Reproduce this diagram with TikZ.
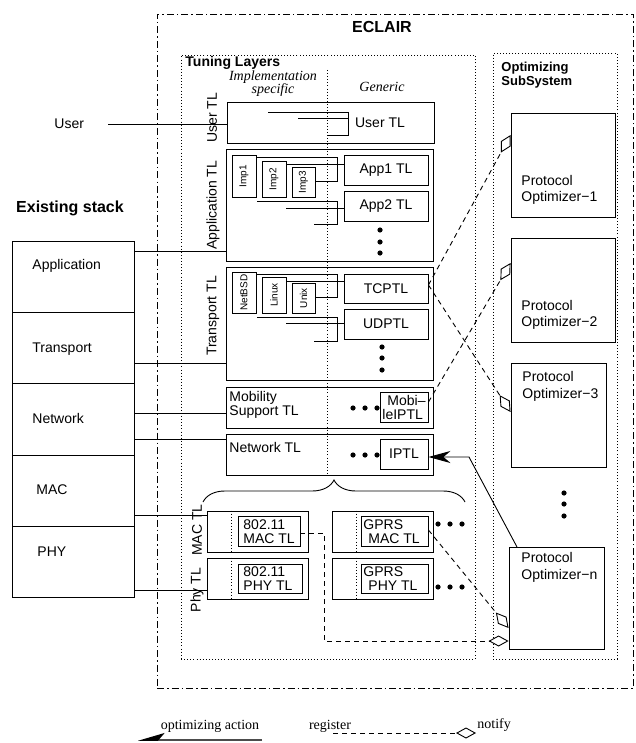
\documentclass[tikz,border=0pt]{standalone}
\usepackage{fontspec}
\usepackage{graphicx}
\setmainfont{Liberation Serif}
\setsansfont{Liberation Sans}
\usetikzlibrary{arrows.meta,decorations.pathreplacing}
\begin{document}
\begin{tikzpicture}[x=1pt,y=-1pt,line width=0.9pt,font=\sffamily,
  box/.style={draw,inner sep=0pt},
  t14/.style={font=\sffamily\fontsize{14}{14}\selectfont,inner sep=0pt},
  t10/.style={font=\sffamily\fontsize{10}{10}\selectfont,inner sep=0pt},
  pot/.style={font=\sffamily\fontsize{14}{16.5}\selectfont,inner sep=0pt,anchor=west,align=left},
  hd/.style={font=\sffamily\bfseries\fontsize{14}{14}\selectfont,inner sep=0pt},
  ser/.style={font=\rmfamily\fontsize{14}{13}\selectfont,inner sep=0pt},
  seri/.style={font=\rmfamily\itshape\fontsize{14}{13}\selectfont,inner sep=0pt,align=center},
  dotline/.style={dash pattern=on 0.9pt off 2.2pt,line width=0.8pt},
  dashdot/.style={dash pattern=on 7pt off 3pt on 1.5pt off 3pt},
  reg/.style={dash pattern=on 5pt off 4pt,-{Diamond[fill=white,length=20pt,width=11pt,line width=0.9pt]}},
  act/.style={-{Stealth[length=22pt,width=12pt,inset=7pt]}},
]
\useasboundingbox (0,0) rectangle (635,743);

% ---------- frames ----------
\node[box,dashdot,minimum width=476pt,minimum height=674pt] (eclair) at (395,351) {};
\node[box,dotline,minimum width=294pt,minimum height=604pt] (tuning) at (328,357) {};
\node[box,dotline,minimum width=124pt,minimum height=606pt] (optsub) at (555,356) {};

\node[font=\sffamily\bfseries\fontsize{16}{16}\selectfont,inner sep=0pt] (ttlEclair) at (382,27) {ECLAIR};
\node[hd,anchor=west] (ttlTuning) at (185,63) {Tuning Layers};
\node[font=\sffamily\bfseries\fontsize{13}{14}\selectfont,inner sep=0pt,anchor=west,align=left] (ttlOpt) at (501,75) {Optimizing\\SubSystem};
\node[seri] (ttlImpl) at (273,84) {Implementation\\specific};
\node[seri] (ttlGen) at (382,87) {Generic};

% ---------- existing stack ----------
\node[font=\sffamily\bfseries\fontsize{16}{16}\selectfont,inner sep=0pt] (ttlStack) at (70,208) {Existing stack};
\node[box,minimum width=122pt,minimum height=71pt] (sApp) at (73,276.5) {};
\node[box,minimum width=122pt,minimum height=71pt] (sTrans) at (73,347.5) {};
\node[box,minimum width=122pt,minimum height=72pt] (sNet) at (73,419) {};
\node[box,minimum width=122pt,minimum height=71pt] (sMac) at (73,490.5) {};
\node[box,minimum width=122pt,minimum height=71pt] (sPhy) at (73,561.5) {};
\node[t14,anchor=west] (tApp) at (32,266) {Application};
\node[t14,anchor=west] (tTrans) at (32,349) {Transport};
\node[t14,anchor=west] (tNet) at (32,418) {Network};
\node[t14,anchor=west] (tMac) at (36,490) {MAC};
\node[t14,anchor=west] (tPhy) at (37,552) {PHY};

% ---------- tuning layers ----------
\node[box,minimum width=207pt,minimum height=41pt] (usertl) at (330.5,122.5) {};
\node[box,minimum width=207pt,minimum height=112pt] (apptl) at (329.5,205) {};
\node[box,minimum width=207pt,minimum height=113pt] (transtl) at (329.5,323.5) {};
\node[box,minimum width=207pt,minimum height=41pt] (mobtl) at (329.5,407.5) {};
\node[box,minimum width=207pt,minimum height=41pt] (nettl) at (329.5,454.5) {};

\node[t14,rotate=90] (lUser) at (212,118) {User TL};
\node[t14,rotate=90] (lApp) at (213,205) {Application TL};
\node[t14,rotate=90] (lTrans) at (213,316) {Transport TL};
\node[t14,rotate=90] (lMac) at (197,530) {MAC TL};
\node[t14,rotate=90] (lPhy) at (197,590) {Phy TL};

% divider between implementation specific and generic parts
\coordinate (divTop) at (327,70);
\coordinate (divBot) at (327,475);
\draw[dotline] (divTop) -- (divBot);

% user TL
\node[t14] (userTxt) at (380,123) {User TL};
\draw (268,112) -- (348,112) -- (348,135) -- (327,135);
\draw (298,118) -- (348,118);

% application TL
\node[box,t10,minimum width=24pt,minimum height=42pt] (imp1) at (244,176) {\rotatebox{90}{Imp1}};
\node[box,t10,minimum width=24pt,minimum height=36pt] (imp2) at (274,179) {\rotatebox{90}{Imp2}};
\node[box,t10,minimum width=23pt,minimum height=30pt] (imp3) at (303.5,182) {\rotatebox{90}{Imp3}};
\node[box,t14,minimum width=84pt,minimum height=30pt] (app1) at (386,170) {App1 TL};
\node[box,t14,minimum width=84pt,minimum height=30pt] (app2) at (386,206) {App2 TL};
\draw (imp1.east |- 0,157) -- (337,157) -- (337,181) -- (imp3.east |- 0,181);
\draw (imp2.east |- 0,164) -- (app1.west |- 0,164);
\draw (257,201) -- (337,201) -- (337,224) -- (314,224);
\draw (286,208) -- (app2.west |- 0,208);
\foreach \y in {230,242,253} \fill (380,\y) circle (2.6pt);

% transport TL
\node[box,t10,minimum width=24pt,minimum height=41pt] (netbsd) at (244,292.5) {\rotatebox{90}{NetBSD}};
\node[box,t10,minimum width=24pt,minimum height=36pt] (linux) at (274,295) {\rotatebox{90}{Linux}};
\node[box,t10,minimum width=23pt,minimum height=30pt] (unix) at (303.5,298) {\rotatebox{90}{Unix}};
\node[box,t14,minimum width=84pt,minimum height=29pt] (tcptl) at (386,288.5) {TCPTL};
\node[box,t14,minimum width=84pt,minimum height=30pt] (udptl) at (386,324) {UDPTL};
\draw (netbsd.east |- 0,274) -- (337,274) -- (337,297) -- (unix.east |- 0,297);
\draw (linux.east |- 0,281) -- (tcptl.west |- 0,281);
\draw (257,317) -- (337,317) -- (337,341) -- (314,341);
\draw (286,323) -- (udptl.west |- 0,323);
\foreach \y in {347,358,370} \fill (382,\y) circle (2.6pt);

% mobility and network TL
\node[t14,anchor=west,align=left] (mobTxt) at (229,405) {Mobility\\Support TL};
\node[box,minimum width=48pt,minimum height=30pt] (mobip) at (404,407) {};
\node[t14,anchor=west,align=left] (mobipTxt) at (382,407) {\hspace{5pt}Mobi\textendash\\leIPTL};
\foreach \x in {353,365,377} \fill (\x,408) circle (2.6pt);
\node[t14,anchor=west] (netTxt) at (229,447) {Network TL};
\node[box,t14,minimum width=48pt,minimum height=30pt] (iptl) at (404,454) {IPTL};
\foreach \x in {353,365,377} \fill (\x,455) circle (2.6pt);

% MAC and PHY TL
\coordinate (brL) at (203,502);
\coordinate (brR) at (465,502);
\draw[decorate,decoration={brace,amplitude=22pt}] (brL) -- (brR);

\node[box,minimum width=101pt,minimum height=41pt] (macL) at (257.5,531.5) {};
\node[box,minimum width=101pt,minimum height=41pt] (macR) at (382.5,531.5) {};
\node[box,minimum width=101pt,minimum height=41pt] (phyL) at (257.5,578.5) {};
\node[box,minimum width=101pt,minimum height=41pt] (phyR) at (382.5,578.5) {};
\draw[dotline] (macL.north -| 231,0) -- (macL.south -| 231,0);
\draw[dotline] (phyL.north -| 231,0) -- (phyL.south -| 231,0);
\draw[dotline] (macR.north -| 356,0) -- (macR.south -| 356,0);
\draw[dotline] (phyR.north -| 356,0) -- (phyR.south -| 356,0);
\node[box,minimum width=62pt,minimum height=30pt] (macLin) at (269,531) {};
\node[box,minimum width=67pt,minimum height=30pt] (macRin) at (394.5,531) {};
\node[box,minimum width=64pt,minimum height=29pt] (phyLin) at (270,578.5) {};
\node[box,minimum width=67pt,minimum height=29pt] (phyRin) at (394.5,578.5) {};
\node[t14,anchor=west,align=left] (macLTxt) at (243,532) {802.11\\MAC TL};
\node[t14,anchor=west,align=left] (macRTxt) at (363,532) {GPRS\\\hspace{5pt}MAC TL};
\node[t14,anchor=west,align=left] (phyLTxt) at (243,579) {802.11\\PHY TL};
\node[t14,anchor=west,align=left] (phyRTxt) at (363,579) {GPRS\\\hspace{5pt}PHY TL};
\foreach \x in {438,450,462} {\fill (\x,524) circle (2.6pt); \fill (\x,587) circle (2.6pt);}

% ---------- optimizing subsystem ----------
\node[box,minimum width=104pt,minimum height=104pt] (po1) at (563,165) {};
\node[box,minimum width=104pt,minimum height=104pt] (po2) at (563,290) {};
\node[box,minimum width=95pt,minimum height=104pt] (po3) at (558.5,415) {};
\node[box,minimum width=95pt,minimum height=102pt] (pon) at (556.5,598) {};
\node[pot] (po1Txt) at (521,190) {Protocol\\Optimizer−1};
\node[pot] (po2Txt) at (521,315) {Protocol\\Optimizer−2};
\node[pot] (po3Txt) at (522,386.5) {Protocol\\Optimizer−3};
\node[pot] (ponTxt) at (521,567.5) {Protocol\\Optimizer−n};
\foreach \y in {493,504,516} \fill (564,\y) circle (2.6pt);

% ---------- links from the existing stack ----------
\node[t14,anchor=west] (userSrc) at (54,124) {User};
\draw (108,124) -- (usertl.west |- 0,124);
\draw (sApp.east |- 0,251) -- (apptl.west |- 0,251);
\draw (sTrans.east |- 0,363) -- (transtl.west |- 0,363);
\draw (sNet.east |- 0,413) -- (mobtl.west |- 0,413);
\draw (sNet.east |- 0,439) -- (nettl.west |- 0,439);
\draw (sMac.east |- 0,515) -- (macL.west |- 0,515);
\draw (sPhy.east |- 0,590) -- (phyL.west |- 0,590);

% ---------- register / notify ----------
\draw[reg] (tcptl.east |- 0,285) -- (po1.west |- 0,135);
\draw[reg] (tcptl.east |- 0,285) -- (po3.west |- 0,412);
\draw[reg] (mobip.east |- 0,402) -- (po2.west |- 0,263);
\draw[reg] (macRin.east |- 0,530) -- (pon.west |- 0,628);
\draw[reg] (macLin.east |- 0,533) -- (324,533) -- (324,641) -- (pon.west |- 0,641);

% ---------- optimizing action ----------
\draw[act] (517,547) -- (469,457) -- (iptl.east |- 0,457);

% ---------- legend ----------
\node[ser] (lgAct) at (210,726) {optimizing action};
\coordinate (lgA1) at (262,740);
\coordinate (lgA2) at (138,740);
\draw[line width=1.5pt,black!70,-{Stealth[harpoon,swap,length=24pt,width=14pt,inset=6pt,color=black]}] (lgA1) -- (lgA2);
\node[ser] (lgReg) at (330,726) {register};
\coordinate (lgR1) at (333,733);
\coordinate (lgR2) at (476,733);
\draw[reg] (lgR1) -- (lgR2);
\node[ser,anchor=west] (lgNot) at (477,725) {notify};
\end{tikzpicture}
\end{document}
